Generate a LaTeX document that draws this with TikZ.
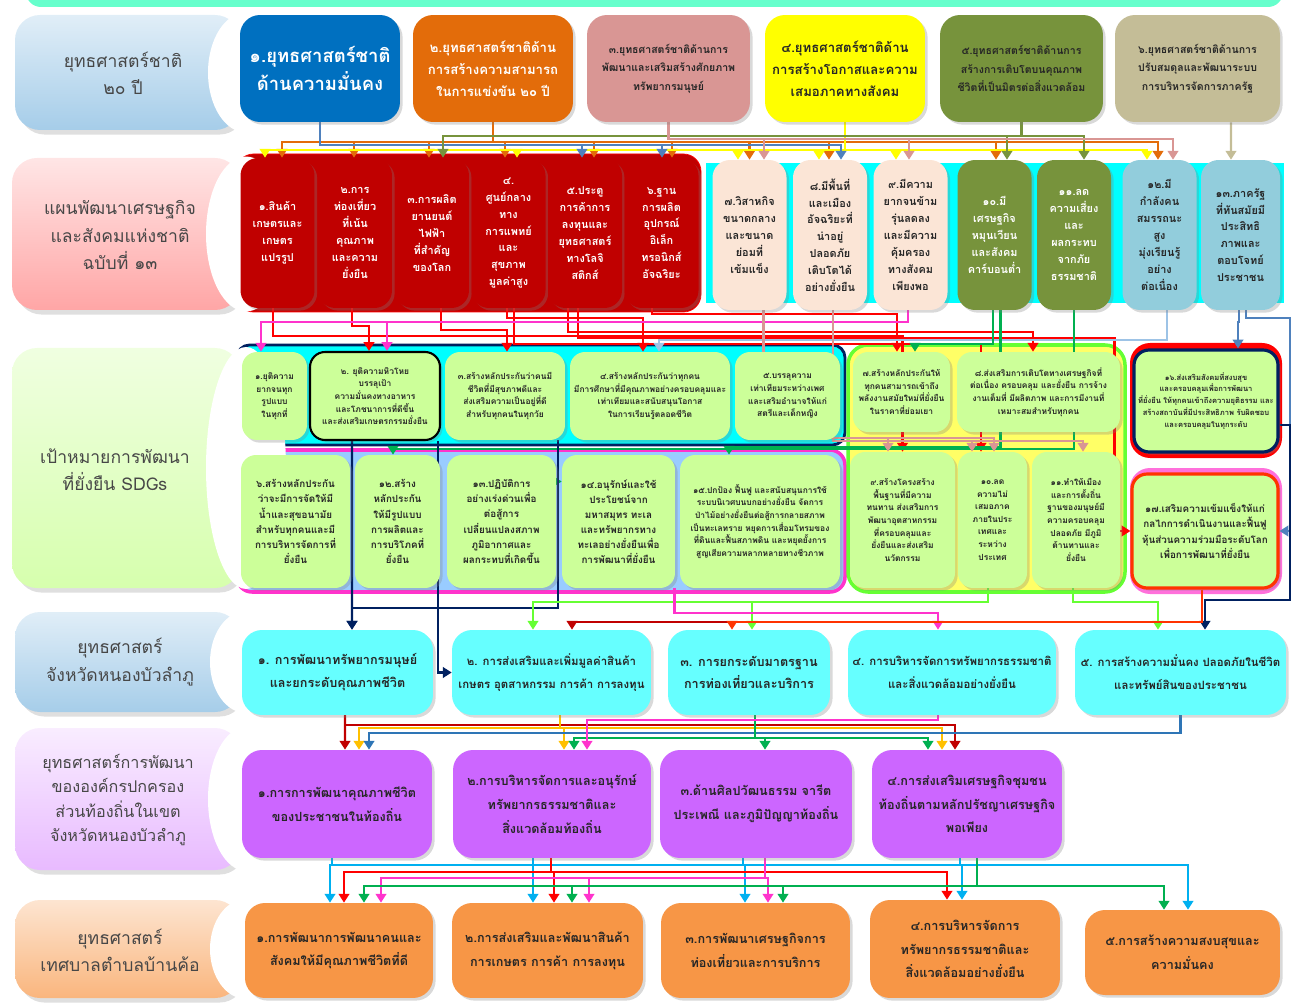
\documentclass[tikz,border=0pt]{standalone}
\usepackage{fontspec}
\setmainfont{Loma}[Script=Thai]
\usepackage{xcolor}
\usepackage{tikz}
\usetikzlibrary{calc,shadows,arrows.meta}
\definecolor{NBMint}{HTML}{66FFCC}
\definecolor{NBBlue}{HTML}{0070C0}
\definecolor{NBOrange}{HTML}{E36C0A}
\definecolor{NBRose}{HTML}{D99694}
\definecolor{NBYellow}{HTML}{FFFF00}
\definecolor{NBOlive}{HTML}{77933C}
\definecolor{NBTan}{HTML}{C4BD97}
\definecolor{NBDarkRed}{HTML}{C00000}
\definecolor{NBPeach}{HTML}{FBE5D6}
\definecolor{NBSky}{HTML}{92CDDC}
\definecolor{NBCyan}{HTML}{00FFFF}
\definecolor{NBLime}{HTML}{CCFF99}
\definecolor{NBNavy}{HTML}{002060}
\definecolor{NBSkyBg}{HTML}{99CCFF}
\definecolor{NBMagenta}{HTML}{FF33CC}
\definecolor{NBYellowBg}{HTML}{FFFF66}
\definecolor{NBGreenB}{HTML}{66FF33}
\definecolor{NBRed}{HTML}{FF0000}
\definecolor{NBAqua}{HTML}{66FFFF}
\definecolor{NBViolet}{HTML}{CC66FF}
\definecolor{NBOrangeL}{HTML}{F79646}
\definecolor{NBText}{HTML}{262626}
\definecolor{NBWBlue}{HTML}{4F81BD}
\definecolor{NBWGreen}{HTML}{00B050}
\definecolor{NBWCyan}{HTML}{00B0F0}
\definecolor{NBWGold}{HTML}{FFC000}
\definecolor{NBWSteel}{HTML}{2E75B6}
\definecolor{NBWLight}{HTML}{9DC3E6}
\definecolor{NBWOrg}{HTML}{FF3300}

\pgfdeclarelayer{grp}
\pgfdeclarelayer{wires}
\pgfsetlayers{grp,wires,main}

\tikzset{
  nblab/.style={align=center,text=NBText!85,font=\fontsize{10}{15.5}\selectfont},
  nbbox/.style={rounded corners=0.4cm,align=center,inner sep=1pt,text=NBText,
    drop shadow={opacity=0.3,shadow xshift=1.5pt,shadow yshift=-1.5pt}},
  nbnat/.style={nbbox,minimum height=2.14cm,font=\bfseries\fontsize{7.5}{12.5}\selectfont},
  nbmile/.style={nbbox,rounded corners=0.35cm,minimum width=1.48cm,minimum height=3cm,
    font=\bfseries\fontsize{6.2}{9.6}\selectfont},
  nbgoal/.style={nbbox,fill=NBLime,rounded corners=0.3cm,font=\bfseries\fontsize{4.8}{7.2}\selectfont},
  nbprov/.style={nbbox,fill=NBAqua,minimum height=1.7cm,font=\bfseries\fontsize{7.2}{13}\selectfont},
  nbloc/.style={nbbox,fill=NBViolet,minimum height=2.16cm,font=\bfseries\fontsize{7.2}{13.5}\selectfont},
  nbtown/.style={nbbox,fill=NBOrangeL,font=\bfseries\fontsize{7.2}{13.5}\selectfont},
  nbwire/.style={line width=1.2pt,-{Triangle[length=5pt,width=6pt]}},
  nbwire2/.style={line width=1.2pt,{Triangle[length=5pt,width=6pt]}-{Triangle[length=5pt,width=6pt]}}
}

\begin{document}
\begin{tikzpicture}[x=0.02cm,y=-0.02cm]
\path[use as bounding box] (0,0) rectangle (1291,1003);
\fill[NBMint,rounded corners=0.3cm] (26,-20) rectangle (1283,7);

% level labels
\shade[top color=NBBlue!12,bottom color=NBBlue!35!white,rounded corners=0.5cm,drop shadow={opacity=0.25}] (15,15) rectangle (240,130);
\fill[white] (246,72.5) ellipse [x radius=0.76cm,y radius=1.2cm];
\node[nblab] (L1) at (123,73) {ยุทธศาสตร์ชาติ\\๒๐ ปี};
\shade[top color=NBRed!10,bottom color=NBRed!35!white,rounded corners=0.5cm,drop shadow={opacity=0.25}] (12,158) rectangle (240,310);
\fill[white] (246,234) ellipse [x radius=0.8cm,y radius=1.55cm];
\node[nblab] (L2) at (120,235) {แผนพัฒนาเศรษฐกิจ\\และสังคมแห่งชาติ\\ฉบับที่ ๑๓};
\shade[top color=NBLime!30,bottom color=NBLime!80,rounded corners=0.5cm,drop shadow={opacity=0.25}] (12,348) rectangle (240,588);
\fill[white] (246,468) ellipse [x radius=0.8cm,y radius=2.42cm];
\node[nblab] (L3) at (115,470) {เป้าหมายการพัฒนา\\ที่ยั่งยืน SDGs};
\shade[top color=NBBlue!12,bottom color=NBBlue!35!white,rounded corners=0.5cm,drop shadow={opacity=0.25}] (15,612) rectangle (240,712);
\fill[white] (246,662) ellipse [x radius=0.72cm,y radius=1.02cm];
\node[nblab] (L4) at (120,662) {ยุทธศาสตร์\\จังหวัดหนองบัวลำภู};
\shade[top color=NBViolet!12,bottom color=NBViolet!45!white,rounded corners=0.5cm,drop shadow={opacity=0.25}] (15,728) rectangle (240,870);
\fill[white] (246,799) ellipse [x radius=0.76cm,y radius=1.44cm];
\node[nblab,font=\fontsize{9.2}{14}\selectfont] (L5) at (118,800) {ยุทธศาสตร์การพัฒนา\\ขององค์กรปกครอง\\ส่วนท้องถิ่นในเขต\\จังหวัดหนองบัวลำภู};
\shade[top color=NBOrangeL!25,bottom color=NBOrangeL!70,rounded corners=0.5cm,drop shadow={opacity=0.25}] (15,900) rectangle (240,998);
\fill[white] (246,949) ellipse [x radius=0.72cm,y radius=1cm];
\node[nblab] (L6) at (120,950) {ยุทธศาสตร์\\เทศบาลตำบลบ้านค้อ};

% group backgrounds
\begin{pgfonlayer}{grp}
\draw[NBRed,fill=NBDarkRed,rounded corners=0.35cm] (236,154) rectangle (701,312);
\fill[NBCyan] (706,163) rectangle (1284,303);
\draw[NBNavy,line width=1.6pt,fill=NBCyan,rounded corners=0.25cm] (237,345) rectangle (845,445);
\draw[NBMagenta,line width=2pt,fill=NBSkyBg,rounded corners=0.3cm] (237,450) rectangle (845,592);
\draw[NBGreenB,line width=2pt,fill=NBYellowBg,rounded corners=0.4cm] (848,345) rectangle (1125,592);
\fill[NBRed,rounded corners=0.4cm] (1130,343) rectangle (1282,458);
\fill[NBMagenta!70,rounded corners=0.4cm] (1130,468) rectangle (1282,594);
\end{pgfonlayer}

% national strategy
\node[nbnat,fill=NBBlue,text=white,minimum width=3.2cm,font=\bfseries\fontsize{10.5}{15.5}\selectfont] (N1) at (320,68.5) {๑.ยุทธศาสตร์ชาติ\\ด้านความมั่นคง};
\node[nbnat,fill=NBOrange,text=white,minimum width=3.2cm] (N2) at (493,68.5) {๒.ยุทธศาสตร์ชาติด้าน\\การสร้างความสามารถ\\ในการแข่งขัน ๒๐ ปี};
\node[nbnat,fill=NBRose,minimum width=3.26cm,font=\bfseries\fontsize{6}{10.5}\selectfont] (N3) at (668.5,68.5) {๓.ยุทธศาสตร์ชาติด้านการ\\พัฒนาและเสริมสร้างศักยภาพ\\ทรัพยากรมนุษย์};
\node[nbnat,fill=NBYellow,minimum width=3.2cm] (N4) at (845,68.5) {๔.ยุทธศาสตร์ชาติด้าน\\การสร้างโอกาสและความ\\เสมอภาคทางสังคม};
\node[nbnat,fill=NBOlive,minimum width=3.26cm,font=\bfseries\fontsize{6}{10.5}\selectfont] (N5) at (1021.5,68.5) {๕.ยุทธศาสตร์ชาติด้านการ\\สร้างการเติบโตบนคุณภาพ\\ชีวิตที่เป็นมิตรต่อสิ่งแวดล้อม};
\node[nbnat,fill=NBTan,minimum width=3.3cm,font=\bfseries\fontsize{6}{10.5}\selectfont] (N6) at (1197.5,68.5) {๖.ยุทธศาสตร์ชาติด้านการ\\ปรับสมดุลและพัฒนาระบบ\\การบริหารจัดการภาครัฐ};

% national plan milestones
\node[nbmile,fill=NBDarkRed,text=white] (K1) at (277.5,233) {๑.สินค้า\\เกษตรและ\\เกษตร\\แปรรูป};
\node[nbmile,fill=NBDarkRed,text=white] (K2) at (355,233) {๒.การ\\ท่องเที่ยว\\ที่เน้น\\คุณภาพ\\และความ\\ยั่งยืน};
\node[nbmile,fill=NBDarkRed,text=white] (K3) at (432,233) {๓.การผลิต\\ยานยนต์\\ไฟฟ้า\\ที่สำคัญ\\ของโลก};
\node[nbmile,fill=NBDarkRed,text=white] (K4) at (508.5,233) {๔.\\ศูนย์กลาง\\ทาง\\การแพทย์\\และ\\สุขภาพ\\มูลค่าสูง};
\node[nbmile,fill=NBDarkRed,text=white] (K5) at (585,233) {๕.ประตู\\การค้าการ\\ลงทุนและ\\ยุทธศาสตร์\\ทางโลจิ\\สติกส์};
\node[nbmile,fill=NBDarkRed,text=white] (K6) at (661.5,233) {๖.ฐาน\\การผลิต\\อุปกรณ์\\อิเล็ก\\ทรอนิกส์\\อัจฉริยะ};
\node[nbmile,fill=NBPeach] (K7) at (749.5,235) {๗.วิสาหกิจ\\ขนาดกลาง\\และขนาด\\ย่อมที่\\เข้มแข็ง};
\node[nbmile,fill=NBPeach] (K8) at (830,235) {๘.มีพื้นที่\\และเมือง\\อัจฉริยะที่\\น่าอยู่\\ปลอดภัย\\เติบโตได้\\อย่างยั่งยืน};
\node[nbmile,fill=NBPeach] (K9) at (910.5,235) {๙.มีความ\\ยากจนข้าม\\รุ่นลดลง\\และมีความ\\คุ้มครอง\\ทางสังคม\\เพียงพอ};
\node[nbmile,fill=NBOlive,text=white] (K10) at (994.5,235) {๑๐.มี\\เศรษฐกิจ\\หมุนเวียน\\และสังคม\\คาร์บอนต่ำ};
\node[nbmile,fill=NBOlive,text=white] (K11) at (1074,235) {๑๑.ลด\\ความเสี่ยง\\และ\\ผลกระทบ\\จากภัย\\ธรรมชาติ};
\node[nbmile,fill=NBSky] (K12) at (1159.5,235) {๑๒.มี\\กำลังคน\\สมรรถนะ\\สูง\\มุ่งเรียนรู้\\อย่าง\\ต่อเนื่อง};
\node[nbmile,fill=NBSky,minimum width=1.58cm] (K13) at (1240.5,235) {๑๓.ภาครัฐ\\ที่ทันสมัยมี\\ประสิทธิ\\ภาพและ\\ตอบโจทย์\\ประชาชน};

% SDGs
\node[nbgoal,minimum width=1.3cm,minimum height=1.76cm] (G1) at (274.5,396) {๑.ยุติความ\\ยากจนทุก\\รูปแบบ\\ในทุกที่};
\node[nbgoal,draw=black,line width=1.2pt,minimum width=2.6cm,minimum height=1.76cm] (G2) at (375,396) {๒. ยุติความหิวโหย\\บรรลุเป้า\\ความมั่นคงทางอาหาร\\และโภชนาการที่ดีขึ้น\\และส่งเสริมเกษตรกรรมยั่งยืน};
\node[nbgoal,minimum width=2.4cm,minimum height=1.76cm] (G3) at (505,396) {๓.สร้างหลักประกันว่าคนมี\\ชีวิตที่มีสุขภาพดีและ\\ส่งเสริมความเป็นอยู่ที่ดี\\สำหรับทุกคนในทุกวัย};
\node[nbgoal,minimum width=3.2cm,minimum height=1.76cm] (G4) at (650,396) {๔.สร้างหลักประกันว่าทุกคน\\มีการศึกษาที่มีคุณภาพอย่างครอบคลุมและ\\เท่าเทียมและสนับสนุนโอกาส\\ในการเรียนรู้ตลอดชีวิต};
\node[nbgoal,minimum width=2.1cm,minimum height=1.76cm] (G5) at (787.5,396) {๕.บรรลุความ\\เท่าเทียมระหว่างเพศ\\และเสริมอำนาจให้แก่\\สตรีและเด็กหญิง};
\node[nbgoal,minimum width=2.18cm,minimum height=2.66cm,font=\bfseries\fontsize{5.6}{8.6}\selectfont] (G6) at (295.5,521.5) {๖.สร้างหลักประกัน\\ว่าจะมีการจัดให้มี\\น้ำและสุขอนามัย\\สำหรับทุกคนและมี\\การบริหารจัดการที่\\ยั่งยืน};
\node[nbgoal,minimum width=1.7cm,minimum height=2.66cm,font=\bfseries\fontsize{5.6}{8.6}\selectfont] (G12) at (397.5,521.5) {๑๒.สร้าง\\หลักประกัน\\ให้มีรูปแบบ\\การผลิตและ\\การบริโภคที่\\ยั่งยืน};
\node[nbgoal,minimum width=2.18cm,minimum height=2.66cm,font=\bfseries\fontsize{5.6}{8.6}\selectfont] (G13) at (501.5,521.5) {๑๓.ปฏิบัติการ\\อย่างเร่งด่วนเพื่อ\\ต่อสู้การ\\เปลี่ยนแปลงสภาพ\\ภูมิอากาศและ\\ผลกระทบที่เกิดขึ้น};
\node[nbgoal,minimum width=2.26cm,minimum height=2.66cm,font=\bfseries\fontsize{5.6}{8.6}\selectfont] (G14) at (618.5,521.5) {๑๔.อนุรักษ์และใช้\\ประโยชน์จาก\\มหาสมุทร ทะเล\\และทรัพยากรทาง\\ทะเลอย่างยั่งยืนเพื่อ\\การพัฒนาที่ยั่งยืน};
\node[nbgoal,minimum width=3.2cm,minimum height=2.66cm] (G15) at (760,521.5) {๑๕.ปกป้อง ฟื้นฟู และสนับสนุนการใช้\\ระบบนิเวศบนบกอย่างยั่งยืน จัดการ\\ป่าไม้อย่างยั่งยืนต่อสู้การกลายสภาพ\\เป็นทะเลทราย หยุดการเสื่อมโทรมของ\\ที่ดินและฟื้นสภาพดิน และหยุดยั้งการ\\สูญเสียความหลากหลายทางชีวภาพ};
\node[nbgoal,minimum width=1.94cm,minimum height=1.6cm] (G7) at (901.5,392) {๗.สร้างหลักประกันให้\\ทุกคนสามารถเข้าถึง\\พลังงานสมัยใหม่ที่ยั่งยืน\\ในราคาที่ย่อมเยา};
\node[nbgoal,minimum width=3.26cm,minimum height=1.6cm] (G8) at (1038.5,392) {๘.ส่งเสริมการเติบโตทางเศรษฐกิจที่\\ต่อเนื่อง ครอบคลุม และยั่งยืน การจ้าง\\งานเต็มที่ มีผลิตภาพ และการมีงานที่\\เหมาะสมสำหรับทุกคน};
\node[nbgoal,minimum width=2.1cm,minimum height=2.72cm] (G9) at (902.5,520) {๙.สร้างโครงสร้าง\\พื้นฐานที่มีความ\\ทนทาน ส่งเสริมการ\\พัฒนาอุตสาหกรรม\\ที่ครอบคลุมและ\\ยั่งยืนและส่งเสริม\\นวัตกรรม};
\node[nbgoal,minimum width=1.38cm,minimum height=2.72cm] (G10) at (992.5,520) {๑๐.ลด\\ความไม่\\เสมอภาค\\ภายในประ\\เทศและ\\ระหว่าง\\ประเทศ};
\node[nbgoal,minimum width=1.76cm,minimum height=2.72cm] (G11) at (1076,520) {๑๑.ทำให้เมือง\\และการตั้งถิ่น\\ฐานของมนุษย์มี\\ความครอบคลุม\\ปลอดภัย มีภูมิ\\ต้านทานและ\\ยั่งยืน};
\node[nbgoal,draw=NBNavy,line width=1.8pt,minimum width=2.88cm,minimum height=2.04cm,font=\bfseries\fontsize{4.3}{6.8}\selectfont] (G16) at (1206,401) {๑๖.ส่งเสริมสังคมที่สงบสุข\\และครอบคลุมเพื่อการพัฒนา\\ที่ยั่งยืน ให้ทุกคนเข้าถึงความยุติธรรม และ\\สร้างสถาบันที่มีประสิทธิภาพ รับผิดชอบ\\และครอบคลุมในทุกระดับ};
\node[nbgoal,draw=NBWOrg,line width=1.8pt,minimum width=2.92cm,minimum height=2.28cm,font=\bfseries\fontsize{5.6}{8.6}\selectfont] (G17) at (1205,531) {๑๗.เสริมความเข้มแข็งให้แก่\\กลไกการดำเนินงานและฟื้นฟู\\หุ้นส่วนความร่วมมือระดับโลก\\เพื่อการพัฒนาที่ยั่งยืน};

% province strategy
\node[nbprov,minimum width=3.82cm] (P1) at (337.5,672.5) {๑. การพัฒนาทรัพยากรมนุษย์\\และยกระดับคุณภาพชีวิต};
\node[nbprov,minimum width=3.98cm,font=\bfseries\fontsize{6.5}{13}\selectfont] (P2) at (551.5,672.5) {๒. การส่งเสริมและเพิ่มมูลค่าสินค้า\\เกษตร อุตสาหกรรม การค้า การลงทุน};
\node[nbprov,minimum width=3.24cm] (P3) at (749,672.5) {๓. การยกระดับมาตรฐาน\\การท่องเที่ยวและบริการ};
\node[nbprov,minimum width=4.16cm,font=\bfseries\fontsize{6.5}{13}\selectfont] (P4) at (952,672.5) {๔. การบริหารจัดการทรัพยากรธรรมชาติ\\และสิ่งแวดล้อมอย่างยั่งยืน};
\node[nbprov,minimum width=4.22cm,font=\bfseries\fontsize{6.5}{13}\selectfont] (P5) at (1180.5,672.5) {๕. การสร้างความมั่นคง ปลอดภัยในชีวิต\\และทรัพย์สินของประชาชน};

% local administration strategy
\node[nbloc,minimum width=3.8cm] (A1) at (337,804) {๑.การการพัฒนาคุณภาพชีวิต\\ของประชาชนในท้องถิ่น};
\node[nbloc,minimum width=3.96cm] (A2) at (552,804) {๒.การบริหารจัดการและอนุรักษ์\\ทรัพยากรธรรมชาติและ\\สิ่งแวดล้อมท้องถิ่น};
\node[nbloc,minimum width=3.84cm] (A3) at (756,804) {๓.ด้านศิลปวัฒนธรรม จารีต\\ประเพณี และภูมิปัญญาท้องถิ่น};
\node[nbloc,minimum width=3.8cm] (A4) at (967,804) {๔.การส่งเสริมเศรษฐกิจชุมชน\\ท้องถิ่นตามหลักปรัชญาเศรษฐกิจ\\พอเพียง};

% municipality strategy
\node[nbtown,minimum width=3.76cm,minimum height=1.9cm] (T1) at (339,950.5) {๑.การพัฒนาการพัฒนาคนและ\\สังคมให้มีคุณภาพชีวิตที่ดี};
\node[nbtown,minimum width=3.82cm,minimum height=1.9cm] (T2) at (547.5,950.5) {๒.การส่งเสริมและพัฒนาสินค้า\\การเกษตร การค้า การลงทุน};
\node[nbtown,minimum width=3.78cm,minimum height=1.9cm] (T3) at (755.5,950.5) {๓.การพัฒนาเศรษฐกิจการ\\ท่องเที่ยวและการบริการ};
\node[nbtown,minimum width=3.8cm,minimum height=1.96cm] (T4) at (965,949) {๔.การบริหารจัดการ\\ทรัพยากรธรรมชาติและ\\สิ่งแวดล้อมอย่างยั่งยืน};
\node[nbtown,minimum width=3.9cm,minimum height=1.7cm] (T5) at (1182.5,952.5) {๕.การสร้างความสงบสุขและ\\ความมั่นคง};

\begin{pgfonlayer}{wires}
% national strategy -> milestones
\draw[nbwire,NBOrange] (N2.south) -- ++(0,20) -| ($(K1.north)+(4.5,0)$);
\draw[nbwire,NBOrange] (N2.south) -- ++(0,20) -| ($(K2.north)+(-1,0)$);
\draw[nbwire,NBOrange] (N2.south) -- ++(0,20) -| ($(K3.north)+(-3,0)$);
\draw[nbwire,NBOrange] (N2.south) -- ++(0,20) -| ($(K4.north)+(-3.5,0)$);
\draw[nbwire,NBOrange] (N2.south) -- ++(0,20) -| ($(K5.north)+(9,0)$);
\draw[nbwire,NBOrange] (N2.south) -- ++(0,20) -| ($(K6.north)+(10.5,0)$);
\draw[nbwire,NBOrange] (N2.south) -- ++(0,20) -| (K7.north);
\draw[nbwire,NBOrange] (N2.south) -- ++(0,20) -| ($(K8.north)+(-1,0)$);
\draw[nbwire,NBOrange] (N2.south) -- ++(0,20) -| ($(K10.north)+(1.5,0)$);
\draw[nbwire,NBOrange] (N2.south) -- ++(0,20) -| ($(K12.north)+(-1.5,0)$);
\draw[nbwire,NBYellow] (N4.south) -- ++(0,28) -| ($(K1.north)+(-12.5,0)$);
\draw[nbwire,NBYellow] (N4.south) -- ++(0,28) -| ($(K4.north)+(8.5,0)$);
\draw[nbwire,NBYellow] (N4.south) -- ++(0,28) -| ($(K7.north)+(-11.5,0)$);
\draw[nbwire,NBYellow] (N4.south) -- ++(0,28) -| ($(K8.north)+(-11,0)$);
\draw[nbwire,NBYellow] (N4.south) -- ++(0,28) -| ($(K9.north)+(-14.5,0)$);
\draw[nbwire,NBYellow] (N4.south) -- ++(0,28) -| ($(K12.north)+(-12.5,0)$);
\draw[nbwire,NBWBlue] (N1.south) -- ++(0,23) -| ($(K5.north)+(-3,0)$);
\draw[nbwire,NBWBlue] (N1.south) -- ++(0,23) -| ($(K6.north)+(0.5,0)$);
\draw[nbwire,NBWBlue] (N1.south) -- ++(0,23) -| ($(K8.north)+(11,0)$);
\draw[nbwire,NBOlive] (N5.south) -- ++(0,14) -| ($(K3.north)+(11,0)$);
\draw[nbwire,NBOlive] (N5.south) -- ++(0,14) -| ($(K10.north)+(12.5,0)$);
\draw[nbwire,NBOlive] (N5.south) -- ++(0,14) -| ($(K11.north)+(10,0)$);
\draw[nbwire,NBRose] (N3.south) -- ++(0,17) -| ($(K7.north)+(14.5,0)$);
\draw[nbwire,NBRose] (N3.south) -- ++(0,17) -| ($(K9.north)+(-1.5,0)$);
\draw[nbwire,NBRose] (N3.south) -- ++(0,17) -| ($(K12.north)+(13.5,0)$);
\draw[nbwire,NBTan] ($(N6.south)+(33.5,0)$) -- ($(K13.north)+(-9.5,0)$);

% milestones -> SDGs
\draw[nbwire,NBRed] ($(K2.south)+(-3,0)$) -- ++(0,18) -| ($(G2.north)+(-6,0)$);
\draw[nbwire,NBRed] ($(K3.south)+(9,0)$) -- ++(0,22) -| ($(G3.north)+(2,0)$);
\draw[nbwire,NBRed] ($(K4.south)+(-1.5,0)$) -- ++(0,10) -| ($(G4.north)+(-7,0)$);
\draw[nbwire,NBRed] ($(K4.south)+(5.5,0)$) -- ++(0,36) -| ($(G10.north)+(-11.5,0)$);
\draw[nbwire,NBRed] ($(K5.south)+(-17,0)$) -- ++(0,24) -| ($(G8.north)+(-5.5,0)$);
\draw[nbwire,NBRed] ($(K5.south)+(-7,0)$) -- ++(0,30) -| ($(G17.west)+(-16,0)$) -- (G17.west);
\draw[nbwire,NBRed] ($(K6.south)+(-9.5,0)$) -- ++(0,6) -| ($(G7.north)+(-4.5,0)$);
\draw[nbwire,NBRed] ($(K1.south)+(-4.5,0)$) -- ++(0,28) -| (G9.north);
\draw[nbwire,NBMagenta] ($(K9.south)+(-2.5,0)$) -- ++(0,12) -| ($(G1.north)+(-13.5,0)$);
\draw[nbwire,NBMagenta] ($(K9.south)+(-2.5,0)$) -- ++(0,12) -| ($(G2.north)+(12,0)$);
\draw[nbwire,NBWLight] ($(K12.south)+(7.5,0)$) -- ++(0,30) -| ($(G4.north)+(9,0)$);
\draw[nbwire,NBWBlue] ($(K13.south)+(-1.5,0)$) -- ++(0,12) -| ($(G16.north)+(32,0)$);
\draw[nbwire,NBWBlue] ($(K13.south)+(5.5,0)$) -- ++(0,8) -| ($(G17.east)+(10,0)$) -- (G17.east);
\draw[nbwire,NBWGreen] ($(K10.south)+(-1.5,0)$) -- ++(0,34) -| ($(G7.north)+(13.5,0)$);
\draw[nbwire,NBWGreen] (K11.south) -- ++(0,139) -| ($(G12.north)+(-4.5,0)$);
\draw[nbwire,NBWGreen] ($(K10.south)+(6,0)$) -- ++(0,137) -| ($(G15.north)+(-31,0)$);
\draw[nbwire2,NBWGreen] ($(G13.east)+(0,-40)$) -- ($(G14.west)+(0,-40)$);
\draw[nbwire,NBRose] ($(K7.south)+(14,0)$) -- ++(0,128) -| ($(G9.north)+(-14.5,0)$);
\draw[nbwire,NBRose] ($(K7.south)+(14,0)$) -- ++(0,128) -| ($(G10.north)+(1.5,0)$);
\draw[nbwire,NBRose] ($(K8.south)+(3,0)$) -- ++(0,131) -| ($(G10.north)+(-20.5,0)$);
\draw[nbwire,NBRose] ($(K8.south)+(3,0)$) -- ++(0,131) -| ($(G11.north)+(7,0)$);

% SDGs -> province strategy
\draw[nbwire,NBNavy] ($(G2.south)+(-23,0)$) -- ($(P1.north)+(14.5,0)$);
\draw[nbwire,NBNavy] ($(G3.south)+(53,0)$) -- ++(0,168) -| ($(P1.north)+(14.5,0)$);
\draw[nbwire,NBNavy] ($(G2.south)+(63,0)$) |- (P2.west);
\draw[nbwire,NBNavy] ($(G16.east)+(0,24)$) -- ++(10,0) -- ++(0,175) -| ($(P5.north)+(24.5,0)$);
\draw[nbwire,NBGreenB] ($(G10.south)+(-4.5,0)$) -- ++(0,14) -| ($(P2.north)+(-18.5,0)$);
\draw[nbwire,NBGreenB] ($(G10.south)+(-4.5,0)$) -- ++(0,14) -| ($(P3.north)+(3,0)$);
\draw[nbwire,NBGreenB] ($(G11.south)+(-3,0)$) -- ++(0,14) -| ($(P5.north)+(-22.5,0)$);
\draw[nbwire,NBMagenta] ($(G14.south)+(56,0)$) -- ++(0,25) -| ($(P4.north)+(-14,0)$);
\draw[nbwire,NBDarkRed] ($(G17.south)+(-3,0)$) -- ++(0,32) -| ($(P2.north)+(20.5,0)$);
\draw[nbwire,NBWOrg] ($(G17.south)+(-3,0)$) -- ++(0,32) -| ($(P3.north)+(-17,0)$);

% province -> local administration
\draw[nbwire,NBDarkRed] ($(P1.south)+(7.5,0)$) -- ($(A1.north)+(8,0)$);
\draw[nbwire,NBDarkRed] ($(P1.south)+(7.5,0)$) -- ++(0,10) -| ($(A4.north)+(-12,0)$);
\draw[nbwire,NBWGold] ($(P2.south)+(8.5,0)$) -- ++(0,13) -| ($(A1.north)+(22,0)$);
\draw[nbwire,NBWGold] ($(P2.south)+(8.5,0)$) -- ++(0,13) -| ($(A2.north)+(12,0)$);
\draw[nbwire,NBWGold] ($(P2.south)+(8.5,0)$) -- ++(0,13) -| ($(A4.north)+(-25,0)$);
\draw[nbwire,NBWSteel] (P5.south) -- ++(0,18) -| ($(A1.north)+(32,0)$);
\draw[nbwire,NBWGreen] ($(P3.south)+(6,0)$) -- ++(0,23) -| ($(A2.north)+(22,0)$);
\draw[nbwire,NBWGreen] ($(P3.south)+(6,0)$) -- ++(0,23) -| ($(A3.north)+(9,0)$);
\draw[nbwire,NBWGreen] ($(P3.south)+(6,0)$) -- ++(0,23) -| ($(A4.north)+(-39,0)$);
\draw[nbwire,NBMagenta] ($(P4.south)+(-14,0)$) -- ++(0,5) -| ($(A2.north)+(35,0)$);

% local administration -> municipality
\draw[nbwire,NBWCyan] ($(A1.south)+(-5,0)$) -- ++(0,7) -| ($(T1.north)+(-9,0)$);
\draw[nbwire,NBWCyan] ($(A1.south)+(-5,0)$) -- ++(0,7) -| ($(T5.north)+(5.5,0)$);
\draw[nbwire,NBWCyan] ($(A2.south)+(-19,0)$) -- ++(0,7) -| ($(T2.north)+(-14.5,0)$);
\draw[nbwire,NBWCyan] ($(A3.south)+(-13,0)$) -- ++(0,7) -| ($(T3.north)+(-10.5,0)$);
\draw[nbwire,NBWCyan] ($(A4.south)+(-7,0)$) -- ++(0,7) -| ($(T4.north)+(-3,0)$);
\draw[nbwire,NBRed] ($(A2.south)+(-1,0)$) -- ++(0,14) -| ($(T1.north)+(5,0)$);
\draw[nbwire,NBRed] ($(A2.south)+(-1,0)$) -- ++(0,14) -| ($(T2.north)+(6.5,0)$);
\draw[nbwire,NBRed] ($(A2.south)+(-1,0)$) -- ++(0,14) -| ($(T4.north)+(-18,0)$);
\draw[nbwire,NBMagenta] ($(A3.south)+(9,0)$) -- ++(0,20) -| ($(T1.north)+(42,0)$);
\draw[nbwire,NBMagenta] ($(A3.south)+(9,0)$) -- ++(0,20) -| ($(T2.north)+(41.5,0)$);
\draw[nbwire,NBMagenta] ($(A3.south)+(9,0)$) -- ++(0,20) -| ($(T3.north)+(12.5,0)$);
\draw[nbwire,NBWGreen] ($(A4.south)+(10,0)$) -- ++(0,28) -| ($(T1.north)+(25,0)$);
\draw[nbwire,NBWGreen] ($(A4.south)+(10,0)$) -- ++(0,28) -| ($(T2.north)+(24.5,0)$);
\draw[nbwire,NBWGreen] ($(A4.south)+(10,0)$) -- ++(0,28) -| ($(T3.north)+(27.5,0)$);
\draw[nbwire,NBWGreen] ($(A4.south)+(10,0)$) -- ++(0,28) -| ($(T5.north)+(-18.5,0)$);
\end{pgfonlayer}
\end{tikzpicture}
\end{document}
